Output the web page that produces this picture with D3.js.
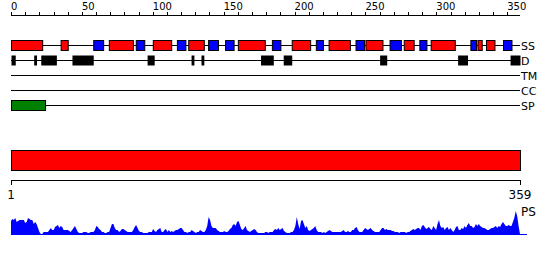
<!DOCTYPE html>
<html>
<head>
<meta charset="utf-8">
<script src="https://cdn.jsdelivr.net/npm/d3@7"></script>
<style>
body { margin: 0; background: #fff; }
text { font-family: "DejaVu Sans", sans-serif; fill: #000; }
</style>
</head>
<body>
<div id="plot"></div>
<script>
// sequence length and tick labels
var seqLength = 359;
var topTicks = d3.range(0, 351, 10);
var topLabels = [0, 50, 100, 150, 200, 250, 300, 350];
var bottomLabels = [1, 359];
var rowNames = ["SS", "D", "TM", "CC", "SP"];

// secondary structure: helix (red) and strand (blue)
var helices = [[0,22],[35,40],[69,86],[100,113],[125,136],[160,179],[198,211],[224,239],[250,262],[277,284],[296,313],[329,332],[335,341]];
var strands = [[58,65],[88,94],[117,123],[139,146],[151,157],[184,190],[215,220],[243,249],[267,275],[288,293],[324,328],[347,353]];
// disorder
var disorder = [[0,3],[16,18],[21,32],[43,58],[96,101],[127,129],[134,136],[176,185],[192,198],[260,265],[315,322],[352,359]];
var transmem = [];
var coils = [];
var signalPep = [[0,24]];
var domains = [[0,359]];

// per residue PS score
var psValues = [
 14,16,15,17,13,14,15,15,15,15,12,13,17,16,15,15,11,13,11,7,3,
 1,1,3,3,3,3,5,7,5,5,8,9,10,7,9,8,5,5,5,5,
 4,3,5,7,9,6,3,2,2,2,3,3,3,2,2,3,3,3,5,9,
 8,6,5,3,3,2,2,3,3,7,11,11,7,5,5,3,4,6,6,5,
 4,3,3,3,3,5,8,10,7,4,3,3,2,2,2,2,3,3,3,6,
 4,3,5,6,7,3,3,5,6,3,5,3,4,3,4,5,5,6,7,7,
 5,3,3,2,3,3,5,4,3,2,3,3,5,4,3,3,5,9,18,15,
 9,7,7,7,5,4,3,3,3,4,3,3,4,6,7,10,11,9,13,14,
 10,6,5,7,9,5,4,3,4,5,6,5,3,2,2,2,2,2,3,3,
 2,3,3,3,5,6,5,7,5,6,7,4,3,2,2,2,3,3,5,9,
 18,11,6,14,15,11,7,9,5,4,5,6,7,9,5,3,3,3,2,3,
 2,3,4,5,4,3,3,3,3,3,3,3,4,5,3,3,4,3,3,5,
 5,7,8,5,3,3,3,5,7,6,5,6,7,5,4,3,3,3,3,5,
 7,7,5,6,5,5,5,4,4,3,3,3,2,3,3,3,3,2,3,3,
 4,5,6,5,6,7,7,5,9,10,8,6,7,8,6,5,9,7,5,11,
 15,9,7,8,5,7,8,5,7,5,3,5,8,9,5,5,7,6,9,7,
 10,12,9,9,7,8,11,9,11,9,8,7,7,6,5,5,6,7,7,8,
 9,7,9,8,11,13,11,9,9,10,9,9,13,17,24,19,9,1
];

var width = 550, height = 260;

var svg = d3.select("#plot").append("svg")
    .attr("width", width)
    .attr("height", height);

// scales
var xScale = d3.scaleLinear().domain([0, seqLength]).range([11, 520]);
var xBottom = d3.scaleLinear().domain([1, seqLength]).range([11, 520]);
var yRow = d3.scaleOrdinal().domain(rowNames).range([45.5, 60.5, 75.5, 90.5, 105.5]);
var yPs = d3.scaleLinear().domain([0, 30]).range([235, 205]);

// top axis
svg.append("line")
    .attr("x1", xScale(0)).attr("x2", xScale(seqLength))
    .attr("y1", 15.5).attr("y2", 15.5)
    .attr("stroke", "#000");

svg.selectAll(".ttick")
    .data(topTicks)
    .enter().append("line")
    .attr("class", "ttick")
    .attr("x1", function(d) { return Math.round(xScale(d)) + 0.5; })
    .attr("x2", function(d) { return Math.round(xScale(d)) + 0.5; })
    .attr("y1", 12).attr("y2", 15.5)
    .attr("stroke", "#000");

svg.selectAll(".tlabel")
    .data(topLabels)
    .enter().append("text")
    .attr("class", "tlabel")
    .attr("x", function(d) { return xScale(d); })
    .attr("y", 10)
    .style("font-size", "10px")
    .text(function(d) { return d; });

// row lines and labels
svg.selectAll(".rowline")
    .data(rowNames)
    .enter().append("line")
    .attr("class", "rowline")
    .attr("x1", xScale(0)).attr("x2", xScale(seqLength))
    .attr("y1", function(d) { return yRow(d); })
    .attr("y2", function(d) { return yRow(d); })
    .attr("stroke", "#000");

svg.selectAll(".rowlabel")
    .data(rowNames)
    .enter().append("text")
    .attr("class", "rowlabel")
    .attr("x", xScale(seqLength) + 1)
    .attr("y", function(d) { return yRow(d) + 4; })
    .style("font-size", "11px")
    .text(function(d) { return d; });

// boxes on a row
function drawBoxes(list, row, fill, stroke)
{
    svg.append("g").selectAll("rect")
        .data(list)
        .enter().append("rect")
        .attr("x", function(d) { return xScale(d[0]) + 0.5; })
        .attr("width", function(d) { return xScale(d[1]) - xScale(d[0]); })
        .attr("y", yRow(row) - 5)
        .attr("height", 10)
        .attr("fill", fill)
        .attr("stroke", stroke);
}

drawBoxes(helices, "SS", "#ff0000", "#000");
drawBoxes(strands, "SS", "#0000ff", "#000");
drawBoxes(disorder, "D", "#000", "none");
drawBoxes(transmem, "TM", "#888", "#000");
drawBoxes(coils, "CC", "#888", "#000");
drawBoxes(signalPep, "SP", "#008000", "#000");

// domain bar
svg.append("g").selectAll("rect")
    .data(domains)
    .enter().append("rect")
    .attr("x", function(d) { return xScale(d[0]) + 0.5; })
    .attr("width", function(d) { return xScale(d[1]) - xScale(d[0]); })
    .attr("y", 150.5)
    .attr("height", 20)
    .attr("fill", "#ff0000")
    .attr("stroke", "#000");

// bottom axis
svg.append("line")
    .attr("x1", xBottom(1)).attr("x2", xBottom(seqLength) + 1)
    .attr("y1", 180.5).attr("y2", 180.5)
    .attr("stroke", "#000");

svg.selectAll(".btick")
    .data(bottomLabels)
    .enter().append("line")
    .attr("class", "btick")
    .attr("x1", function(d) { return Math.round(xBottom(d)) + 0.5; })
    .attr("x2", function(d) { return Math.round(xBottom(d)) + 0.5; })
    .attr("y1", 180.5).attr("y2", 185)
    .attr("stroke", "#000");

svg.selectAll(".blabel")
    .data(bottomLabels)
    .enter().append("text")
    .attr("class", "blabel")
    .attr("x", function(d) { return xBottom(d); })
    .attr("y", 199)
    .attr("text-anchor", "middle")
    .style("font-size", "12px")
    .text(function(d) { return d; });

// PS area
var area = d3.area()
    .x(function(d, i) { return xBottom(i + 1); })
    .y0(yPs(0))
    .y1(function(d) { return yPs(d); });

svg.append("path")
    .datum(psValues)
    .attr("d", area)
    .attr("fill", "#0000ff");

svg.append("line")
    .attr("x1", xBottom(1)).attr("x2", xBottom(seqLength) + 7)
    .attr("y1", yPs(0) - 0.5).attr("y2", yPs(0) - 0.5)
    .attr("stroke", "#0000ff");

svg.append("text")
    .attr("x", xBottom(seqLength) + 1)
    .attr("y", 216)
    .style("font-size", "12px")
    .text("PS");
</script>
</body>
</html>
